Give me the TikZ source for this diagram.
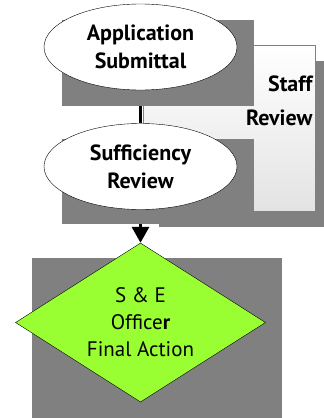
\documentclass[tikz,border=0pt]{standalone}
\usepackage{fontspec}
\setmainfont{PT Sans}
\usetikzlibrary{shapes.geometric,arrows.meta,calc}
\definecolor{shadegray}{RGB}{128,128,128}
\definecolor{actiongreen}{RGB}{153,255,51}
\pgfdeclarelayer{back}
\pgfsetlayers{back,main}

\begin{document}
\begin{tikzpicture}[x=1pt,y=-1pt,
  bubble/.style={ellipse,draw,fill=white,minimum width=193pt,minimum height=86pt,
    inner sep=0pt,align=center,font=\fontsize{22}{28}\selectfont\bfseries},
  link/.style={line width=3pt}]
\useasboundingbox (0,0) rectangle (324,418);

% Staff review
\fill[shadegray] (159,61) rectangle (331,227);
\node[draw=shadegray,top color=white,bottom color=gray!22,minimum width=172pt,
  minimum height=166pt,inner sep=0pt] (staff) at (229,128) {};
\node[anchor=east,align=right,font=\fontsize{22}{34}\selectfont\bfseries] (stafftext)
  at (316,101) {Staff\\Review};

% Application submittal
\fill[shadegray] (62,20) rectangle (254,106);
\node[bubble] (app) at (140.5,47) {Application\\Submittal};

% Sufficiency review
\fill[shadegray] (62,139) rectangle (254,224);
\node[bubble] (suff) at (140.5,166.5) {Sufficiency\\Review};

% Final action
\fill[shadegray] (32,258) rectangle (282,418);
\node[diamond,draw,fill=actiongreen,minimum width=250pt,minimum height=159pt,
  aspect=1.57,inner sep=0pt,align=center,font=\fontsize{21}{27}\selectfont] (final)
  at (140.5,322.5) {S \& E\\Office\textbf{r}\\Final Action};

% Connectors
\begin{pgfonlayer}{back}
\draw[link] (app.south) -- (suff.north);
\draw[link,-{Triangle[width=17pt,length=16pt]}] (suff.south) -- (final.north);
\end{pgfonlayer}
\end{tikzpicture}
\end{document}
